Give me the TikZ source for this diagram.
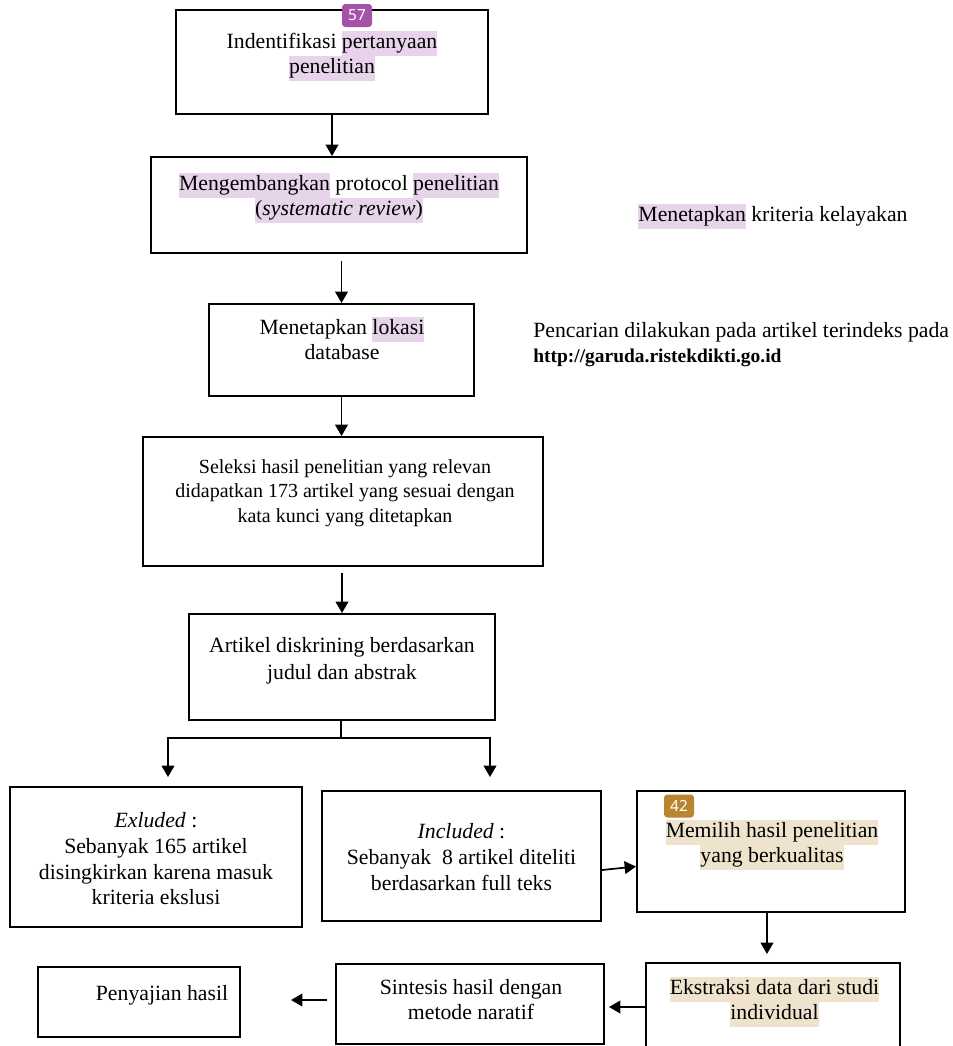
\documentclass[tikz,border=0pt]{standalone}
\usepackage{fontspec}
\setmainfont{Liberation Serif}
\newfontfamily\badgefont{Noto Sans}
\usetikzlibrary{arrows.meta,calc}
\definecolor{hlpurple}{HTML}{E8D4EA}
\definecolor{hlbeige}{HTML}{EFE3CE}
\definecolor{badgepurple}{HTML}{A552A9}
\definecolor{badgegold}{HTML}{B9862F}
\newcommand\hlP[1]{{\setlength{\fboxsep}{0pt}\colorbox{hlpurple}{\strut#1}}}
\newcommand\hlB[1]{{\setlength{\fboxsep}{0pt}\colorbox{hlbeige}{\strut#1}}}
\newcommand\pbox[5]{\node[box, minimum width={(#4-#2)*0.75pt}, minimum height={(#5-#3)*0.75pt}] (#1) at ({(#2+#4)/2},{(#3+#5)/2}) {};}
\tikzset{
  box/.style={draw, line width=1.5pt, rectangle, inner sep=0pt},
  txt/.style={align=center, inner sep=0pt, anchor=north, font=\fontsize{16.3}{18.75}\selectfont},
  arr/.style={line width=1.3pt, -{Triangle[width=9.5pt,length=8.5pt]}},
  badge/.style={rounded corners=2.5pt, minimum width=22.5pt, minimum height=17.25pt, inner sep=0pt, text=white, font=\badgefont\fontsize{11.5}{11.5}\selectfont}
}
\begin{document}
\begin{tikzpicture}[x=0.75pt,y=-0.75pt]
\useasboundingbox (0,0) rectangle (953,1046);
% boxes
\pbox{b1}{176}{10}{488}{114}
\pbox{b2}{151}{157}{527}{253}
\pbox{b3}{209}{304}{474}{396}
\pbox{b4}{143}{437}{543}{566}
\pbox{b5}{189}{614}{495}{720}
\pbox{exc}{10}{787}{302}{927}
\pbox{inc}{322}{791}{601}{921}
\pbox{mem}{637}{791}{905}{912}
\pbox{eks}{646}{963}{900}{1051}
\pbox{sin}{336}{964}{604}{1044}
\pbox{pen}{38}{967}{240}{1037}
% texts
\node[txt] (t1) at (332,30.5) {\strut Indentifikasi \hlP{pertanyaan}\\\hlP{penelitian}};
\node[txt] (t2) at (339,172.5) {\strut\hlP{Mengembangkan} protocol \hlP{penelitian}\\\hlP{(\textit{systematic review})}};
\node[txt] (t3) at (342,316.5) {\strut Menetapkan \hlP{lokasi}\\database};
\node[txt, font=\fontsize{15}{18.4}\selectfont] (t4) at (345,456) {\strut Seleksi hasil penelitian yang relevan\\didapatkan 173 artikel yang sesuai dengan\\kata kunci yang ditetapkan};
\node[txt, font=\fontsize{16.3}{20}\selectfont] (t5) at (342,633.5) {\strut Artikel diskrining berdasarkan\\judul dan abstrak};
\node[txt, font=\fontsize{16.3}{19.3}\selectfont] (texc) at (156,809.5) {\strut\textit{Exluded} :\\Sebanyak 165 artikel\\disingkirkan karena masuk\\kriteria ekslusi};
\node[txt, font=\fontsize{16.3}{19.5}\selectfont] (tinc) at (461.5,820.5) {\strut\textit{Included} :\\Sebanyak\ \ 8 artikel diteliti\\berdasarkan full teks};
\node[txt] (tmem) at (772,819.5) {\strut\hlB{Memilih hasil penelitian}\\\hlB{yang berkualitas}};
\node[txt] (teks) at (774.5,976.5) {\strut\hlB{Ekstraksi data dari studi}\\\hlB{individual}};
\node[txt] (tsin) at (471,976.5) {\strut Sintesis hasil dengan\\metode naratif};
\node[txt] (tpen) at (162,982.5) {\strut Penyajian hasil};
\node[txt] (tkri) at (773,203.5) {\strut\hlP{Menetapkan} kriteria kelayakan};
\node[txt, align=left, anchor=north west] (tpen2) at (533,319.5) {\strut Pencarian dilakukan pada artikel terindeks pada\\{\fontsize{14.6}{18.75}\selectfont\textbf{http://garuda.ristekdikti.go.id}}};
% badges
\node[badge, fill=badgepurple] (bd57) at (357,15.5) {57};
\node[badge, fill=badgegold] (bd42) at (679,806) {42};
% connectors
\draw[arr] (b1.south) -- (b2.north -| b1.south);
\draw[arr, shorten <=5.25pt] (b2.south -| b3.north) -- (b3.north);
\draw[arr] (b3.south) -- (b4.north -| b3.south);
\draw[arr, shorten <=4.5pt] (b4.south -| b5.north) -- (b5.north);
\coordinate (split) at (341,738);
\draw[line width=1pt] (b5.south -| split) -- (split);
\draw[arr, shorten >=6.75pt] (split) -| ($(exc.north)+(12,0)$);
\draw[arr, shorten >=9.75pt] (split) -| ($(inc.north)+(28.5,0)$);
\draw[arr] ($(inc.east)+(0,14)$) -- ($(mem.west)+(0,15)$);
\draw[arr, shorten >=6pt] ($(mem.south)+(-4,0)$) -- ($(eks.north)+(-6,0)$);
\draw[arr, shorten >=3pt] (eks.west) -- (eks.west -| sin.east);
\draw[arr, shorten <=6pt, shorten >=37.5pt] ($(sin.west)+(0,-4)$) -- ($(pen.east)+(0,-2)$);
\end{tikzpicture}
\end{document}
